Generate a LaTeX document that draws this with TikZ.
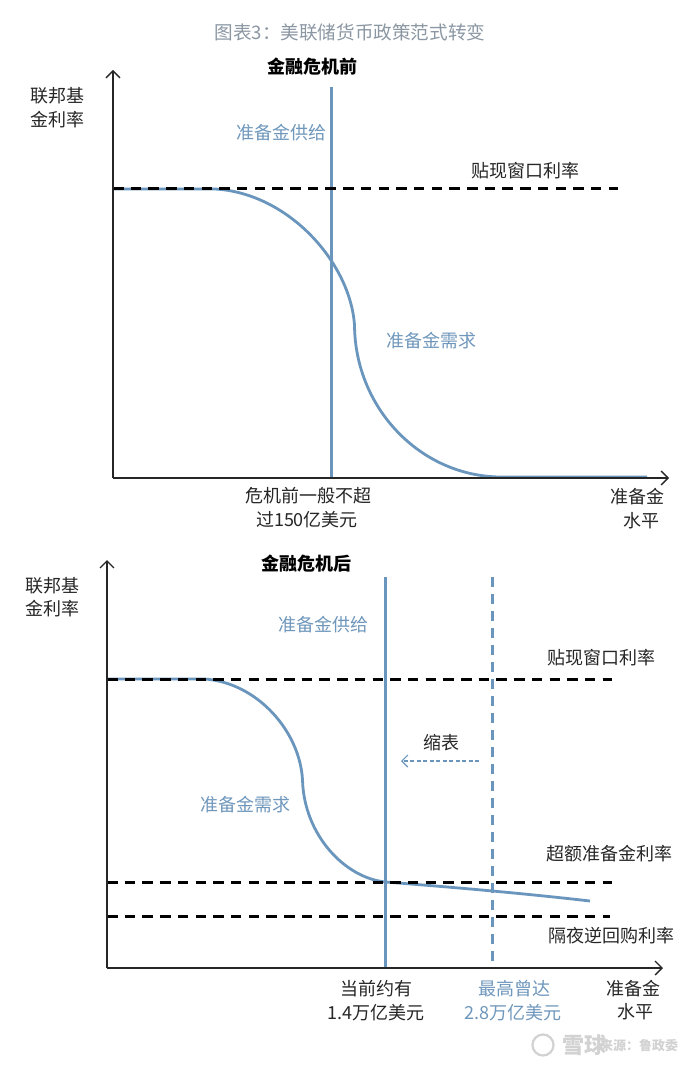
\documentclass[tikz,border=0pt]{standalone}
\usepackage{fontspec}
\setmainfont{Noto Sans CJK SC}
\usetikzlibrary{arrows.meta}
\definecolor{curveblue}{HTML}{6A96BD}
\definecolor{textblue}{HTML}{6F97BC}
\definecolor{titlegrey}{HTML}{8B97A3}
\definecolor{markgrey}{HTML}{D2D2D2}
\tikzset{
  axisline/.style={draw=black!85,line width=1.3pt,-{Straight Barb[length=7pt,width=14pt,line width=1.3pt]}},
  ratedash/.style={draw=black,line width=3pt,dash pattern=on 10.5pt off 7.2pt},
  supplyline/.style={draw=curveblue,line width=2.6pt},
  supplydash/.style={draw=curveblue,line width=2.5pt,dash pattern=on 10pt off 7pt},
  demandcurve/.style={draw=curveblue,line width=2.8pt},
  shrinkarrow/.style={draw=curveblue,line width=1.2pt,dash pattern=on 4pt off 2.5pt,-{Straight Barb[length=6pt,width=12pt,line width=1.2pt]}},
  blacklabel/.style={inner sep=0pt,text=black!85,font=\fontsize{18}{20}\selectfont},
  headlabel/.style={inner sep=0pt,text=black,font=\fontsize{18}{20}\selectfont\bfseries},
  bluelabel/.style={inner sep=0pt,text=textblue,font=\fontsize{18}{20}\selectfont},
  marklabel/.style={inner sep=0pt,text=markgrey,font=\fontsize{22}{24}\selectfont\bfseries},
}
\begin{document}
\begin{tikzpicture}[x=1pt,y=-1pt]
\useasboundingbox[fill=white] (0,0) rectangle (700,1067);
% title
\node[inner sep=0pt,text=titlegrey,font=\fontsize{18.6}{20}\selectfont] (title) at (350,32) {图表3：美联储货币政策范式转变};
% ---------- top chart
\coordinate (tO) at (113,478);
\coordinate (tY) at (113,70);
\coordinate (tX) at (669,478);
\coordinate (tRa) at (113,189);
\coordinate (tRb) at (618,189);
\coordinate (tSa) at (331.5,87);
\coordinate (tSb) at (331.5,478);
\coordinate (tDa) at (113,189);
\coordinate (tDb) at (215,189);
\coordinate (tDc) at (354.5,325);
\coordinate (tDd) at (500,477);
\coordinate (tDe) at (647,477);
\draw[demandcurve] (tDa) -- (tDb) .. controls (288,193) and (350,262) .. (tDc)
   .. controls (355,408) and (420,476) .. (tDd) -- (tDe);
\draw[supplyline] (tSa) -- (tSb);
\draw[ratedash] (tRa) -- (tRb);
\draw[axisline] (tO) -- (tY);
\draw[axisline] (tO) -- (tX);
\node[headlabel] (tHead) at (312,67) {金融危机前};
\node[blacklabel] (tYa) at (57,96) {联邦基};
\node[blacklabel] (tYb) at (57,120) {金利率};
\node[bluelabel] (tSup) at (281,133) {准备金供给};
\node[blacklabel] (tRate) at (525,171) {贴现窗口利率};
\node[bluelabel] (tDem) at (431,341) {准备金需求};
\node[blacklabel] (tNa) at (308,496) {危机前一般不超};
\node[blacklabel] (tNb) at (307,520) {过150亿美元};
\node[blacklabel] (tXa) at (637,497) {准备金};
\node[blacklabel] (tXb) at (641,521) {水平};
% ---------- bottom chart
\coordinate (bO) at (107,968);
\coordinate (bY) at (107,560);
\coordinate (bX) at (663,968);
\coordinate (bRa) at (107,679);
\coordinate (bRb) at (612,679);
\coordinate (bEa) at (107,882);
\coordinate (bEb) at (612,882);
\coordinate (bOa) at (107,916);
\coordinate (bOb) at (610,916);
\coordinate (bSa) at (385.5,577);
\coordinate (bSb) at (385.5,968);
\coordinate (bMa) at (492.5,577);
\coordinate (bMb) at (492.5,968);
\coordinate (bDa) at (107,679);
\coordinate (bDb) at (205,679);
\coordinate (bDc) at (302.5,780);
\coordinate (bDd) at (385.5,882);
\coordinate (bDe) at (590,901);
\coordinate (bAa) at (479,761);
\coordinate (bAb) at (401,761);
\draw[demandcurve] (bDa) -- (bDb) .. controls (258,683) and (300,732) .. (bDc)
   .. controls (304,835) and (345,878) .. (bDd)
   .. controls (450,887) and (520,893) .. (bDe);
\draw[supplyline] (bSa) -- (bSb);
\draw[supplydash] (bMa) -- (bMb);
\draw[ratedash] (bRa) -- (bRb);
\draw[ratedash] (bEa) -- (bEb);
\draw[ratedash] (bOa) -- (bOb);
\draw[shrinkarrow] (bAa) -- (bAb);
\draw[axisline] (bO) -- (bY);
\draw[axisline] (bO) -- (bX);
\node[headlabel] (bHead) at (306,564) {金融危机后};
\node[blacklabel] (bYa) at (52,586) {联邦基};
\node[blacklabel] (bYb) at (52,609) {金利率};
\node[bluelabel] (bSup) at (323,625) {准备金供给};
\node[blacklabel] (bRate) at (601,658) {贴现窗口利率};
\node[blacklabel] (bShr) at (441,743) {缩表};
\node[bluelabel] (bDem) at (245,805) {准备金需求};
\node[blacklabel] (bExc) at (609,854) {超额准备金利率};
\node[blacklabel] (bRev) at (611,936) {隔夜逆回购利率};
\node[blacklabel] (bNa) at (376,989) {当前约有};
\node[blacklabel] (bNb) at (376,1013) {1.4万亿美元};
\node[bluelabel] (bHa) at (514,989) {最高曾达};
\node[bluelabel] (bHb) at (513,1013) {2.8万亿美元};
\node[blacklabel] (bXa) at (633,989) {准备金};
\node[blacklabel] (bXb) at (635,1012) {水平};
% ---------- watermark
\draw[markgrey,line width=2.2pt] (543,1045) circle (10.5);
\node[marklabel] (mkA) at (584,1045) {雪球};
\node[marklabel,font=\fontsize{13}{16}\selectfont\bfseries] (mkB) at (639,1046) {来源：鲁政委};
\end{tikzpicture}
\end{document}
